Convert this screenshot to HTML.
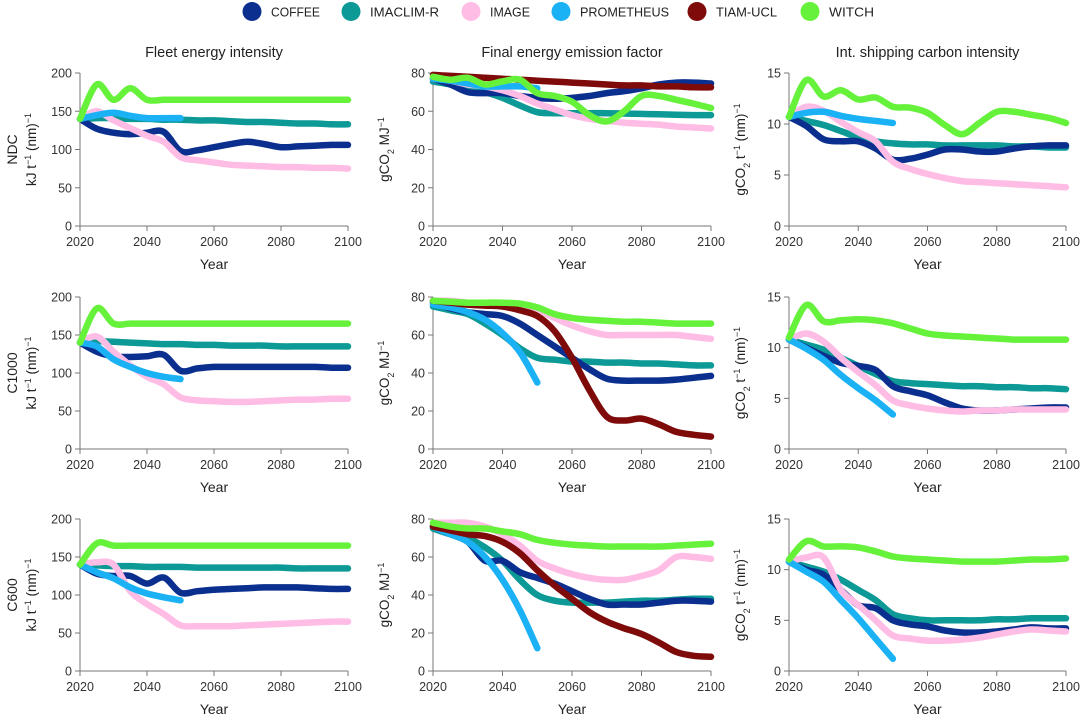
<!DOCTYPE html>
<html><head><meta charset="utf-8"><style>
html,body{margin:0;padding:0;background:#fff;}
svg{display:block;font-family:"Liberation Sans",sans-serif;}
</style></head><body>
<svg id="chart" width="1080" height="717" viewBox="0 0 1080 717" xmlns="http://www.w3.org/2000/svg">
<g id="legend"></g>
<g id="panels"></g>
</svg>
<script>
const models = ["COFFEE","IMACLIM-R","IMAGE","PROMETHEUS","TIAM-UCL","WITCH"];
const modelColors = ["#0b2f8e","#0d9a96","#ffbde6","#1bb2f5","#7f0a0a","#66f23a"];
const years = [2020,2025,2030,2035,2040,2045,2050,2055,2060,2065,2070,2075,2080,2085,2090,2095,2100];
const xTicks = [2020,2040,2060,2080,2100];
const colTitles = ["Fleet energy intensity","Final energy emission factor","Int. shipping carbon intensity"];
const rowLabels = ["NDC","C1000","C600"];
const yTicks1 = [0,50,100,150,200];
const yTicks2 = [0,20,40,60,80];
const yTicks3 = [0,5,10,15];

// Row NDC
const ndcFleetCoffee = [140,127,122,120,122,123,98,99,103,107,110,107,103,104,105,106,106];
const ndcFleetImaclim = [140,141,141,140,140,139,139,138,138,137,136,136,135,134,134,133,133];
const ndcFleetImage = [140,150,138,128,118,110,90,86,83,80,79,78,77,77,76,76,75];
const ndcFleetProm = [140,145,148,144,141,141,141];
const ndcFleetWitch = [140,185,165,180,165,165,165,165,165,165,165,165,165,165,165,165,165];

const ndcEmisCoffee = [77,74,70,69.5,69.5,68,67,66.5,67,68,69.5,70.5,72,74,75,75,74.5];
const ndcEmisImaclim = [75.5,74,72,70,67,63,59.5,59,59,59,59,58.8,58.6,58.4,58.2,58,58];
const ndcEmisImage = [77,76,74,73,71,68,64,61,58,56,55,54,53.5,53,52,51.5,51];
const ndcEmisProm = [77,76,74.5,73,73,73,72];
const ndcEmisTiam = [79,78.5,78,77.5,77,76.5,76,75.5,75,74.5,74,73.5,73.5,73,73,72.5,72.5];
const ndcEmisWitch = [78,76.5,77.5,74,75.6,76.5,69.5,68,65,58,54.7,60,68,68,66,64,61.7];

const ndcShipCoffee = [10.7,9.8,8.5,8.3,8.3,7.6,6.5,6.6,7.0,7.5,7.5,7.3,7.3,7.6,7.8,7.9,7.9];
const ndcShipImaclim = [10.7,10.3,9.9,9.3,8.7,8.3,8.1,8.0,8.0,7.9,7.9,7.9,7.9,7.8,7.8,7.7,7.7];
const ndcShipImage = [10.7,11.7,11.3,10.2,9.2,8.3,6.3,5.6,5.1,4.7,4.4,4.3,4.2,4.1,4.0,3.9,3.8];
const ndcShipProm = [10.7,11.1,11.2,10.8,10.5,10.3,10.1];
const ndcShipWitch = [10.7,14.3,12.7,13.3,12.4,12.6,11.7,11.6,11.1,9.9,9.0,10.1,11.2,11.2,10.9,10.6,10.1];

// Row C1000
const c1kFleetCoffee = [140,128,122,121,122,124,103,106,108,108,108,108,108,108,108,107,107];
const c1kFleetImaclim = [140,142,141,140,139,138,138,137,137,136,136,136,135,135,135,135,135];
const c1kFleetImage = [140,148,128,110,95,85,68,64,63,62,62,63,64,65,65,66,66];
const c1kFleetProm = [140,135,118,108,100,95,92];
const c1kFleetWitch = [140,185,165,165,165,165,165,165,165,165,165,165,165,165,165,165,165];

const c1kEmisCoffee = [77,74,72,71,70,66,60,54,48,42,37,36,36,36,36.5,37.5,38.5];
const c1kEmisImaclim = [75,73,71,66,60,53,48,47,46,46,45.5,45.5,45,45,44.5,44,44];
const c1kEmisImage = [78,78,77,76.5,76,75,73,69,65,62,60,60,60,60,60,59,58];
const c1kEmisProm = [76,74.5,72,68,61,51,35];
const c1kEmisTiam = [78,77,76,75.5,75,73,70,62,48,31,17,15,16,13,9,7.5,6.5];
const c1kEmisWitch = [78,77.5,77,77,77,76.5,74.5,71,69,68,67.5,67,67,66.5,66,66,66];

const c1kShipCoffee = [10.8,10.0,9.2,8.5,8.2,7.8,6.2,5.7,5.3,4.6,4.0,3.8,3.8,3.9,4.0,4.1,4.1];
const c1kShipImaclim = [10.8,10.3,9.8,9.0,8.2,7.4,6.7,6.5,6.4,6.3,6.2,6.2,6.1,6.1,6.0,6.0,5.9];
const c1kShipImage = [10.8,11.4,10.6,9.0,7.6,6.3,4.8,4.3,4.0,3.8,3.7,3.8,3.8,3.9,3.9,3.9,3.9];
const c1kShipProm = [10.8,9.9,8.8,7.3,6.0,4.8,3.4];
const c1kShipWitch = [11,14.2,12.6,12.7,12.8,12.7,12.4,11.9,11.4,11.2,11.1,11,10.9,10.8,10.8,10.8,10.8];

// Row C600
const c600FleetCoffee = [140,128,125,125,115,123,103,105,107,108,109,110,110,110,109,108,108];
const c600FleetImaclim = [140,139,138,138,137,137,137,136,136,136,136,136,136,135,135,135,135];
const c600FleetImage = [140,143,140,105,88,75,60,59,59,59,60,61,62,63,64,65,65];
const c600FleetProm = [140,130,122,110,102,97,93];
const c600FleetWitch = [140,168,165,165,165,165,165,165,165,165,165,165,165,165,165,165,165];

const c600EmisCoffee = [76,72,68,58,58,52,49,46,42,38,35,35,35,36,37,37,36.5];
const c600EmisImaclim = [75,72,70,65,58,48,40,37,36,36,36,36.5,37,37,37.5,38,38];
const c600EmisImage = [78,78,78,76,72,66,58,54,51,49,48,48,50,53,60,60,59];
const c600EmisProm = [76,72,68,60,48,32,12];
const c600EmisTiam = [76,74,72,71,68,62,53,45,38,31,26,22.5,19.5,15,10,8,7.5];
const c600EmisWitch = [78,76,75,75,73.5,72,69,67.5,66.5,66,65.5,65.5,65.5,65.5,66,66.5,67];

const c600ShipCoffee = [10.8,10,9.5,8,6.5,6.2,5,4.6,4.4,4,3.8,3.8,3.9,4.1,4.3,4.2,4.2];
const c600ShipImaclim = [10.8,10.3,9.8,9,8,7,5.6,5.2,5.0,5.0,5.0,5.0,5.1,5.1,5.2,5.2,5.2];
const c600ShipImage = [10.8,11.2,11.2,8,6.5,5,3.5,3.2,3.0,3.0,3.1,3.3,3.6,3.9,4.1,4.0,3.9];
const c600ShipProm = [10.8,9.8,8.8,7,5.2,3.2,1.2];
const c600ShipWitch = [11,12.8,12.3,12.3,12.2,11.8,11.3,11.1,11.0,10.9,10.8,10.8,10.8,10.9,11,11,11.1];

const NS="http://www.w3.org/2000/svg";
function mk(tag, attrs, parent){const e=document.createElementNS(NS,tag);for(const k in attrs)e.setAttribute(k,attrs[k]);if(parent)parent.appendChild(e);return e;}

// legend
const legend=document.getElementById('legend');
const legMarkX=[252,351,471,561,697,810];
const legTextW=[49,69,40,89,61,45];
models.forEach((m,i)=>{
  const g=mk('g',{},legend);
  
  
  const el=mk('ellipse',{cx:legMarkX[i],cy:11.5,rx:9.5,ry:9.5,fill:modelColors[i]},g);
  
  
  const t=mk('text',{x:legMarkX[i]+19,y:16.5,'font-size':13,fill:'#222',textLength:legTextW[i],lengthAdjust:'spacingAndGlyphs'},g);
  
  
  t.textContent=m;
});

const colX=[[80,348],[433,711],[789,1066]];
const rowY=[[226,73],[449,297],[671,519]];
const colTicks=[yTicks1,yTicks2,yTicks3];
const colMax=[200,80,15];
const yTitles=[
  ['kJ t','−1',' (nm)','−1'],
  ['gCO','2s',' MJ','−1'],
  ['gCO','2s',' t','−1',' (nm)','−1']
];
const panelData=[
 [[ndcFleetCoffee,ndcFleetImaclim,ndcFleetImage,ndcFleetProm,null,ndcFleetWitch],
  [ndcEmisCoffee,ndcEmisImaclim,ndcEmisImage,ndcEmisProm,ndcEmisTiam,ndcEmisWitch],
  [ndcShipCoffee,ndcShipImaclim,ndcShipImage,ndcShipProm,null,ndcShipWitch]],
 [[c1kFleetCoffee,c1kFleetImaclim,c1kFleetImage,c1kFleetProm,null,c1kFleetWitch],
  [c1kEmisCoffee,c1kEmisImaclim,c1kEmisImage,c1kEmisProm,c1kEmisTiam,c1kEmisWitch],
  [c1kShipCoffee,c1kShipImaclim,c1kShipImage,c1kShipProm,null,c1kShipWitch]],
 [[c600FleetCoffee,c600FleetImaclim,c600FleetImage,c600FleetProm,null,c600FleetWitch],
  [c600EmisCoffee,c600EmisImaclim,c600EmisImage,c600EmisProm,c600EmisTiam,c600EmisWitch],
  [c600ShipCoffee,c600ShipImaclim,c600ShipImage,c600ShipProm,null,c600ShipWitch]]
];
const drawOrder=[1,0,2,3,4,5];

function smoothPath(pts){
  let d='M'+pts[0][0].toFixed(1)+','+pts[0][1].toFixed(1);
  for(let i=0;i<pts.length-1;i++){
    const p0=pts[Math.max(0,i-1)],p1=pts[i],p2=pts[i+1],p3=pts[Math.min(pts.length-1,i+2)];
    const c1x=p1[0]+(p2[0]-p0[0])/6,c1y=p1[1]+(p2[1]-p0[1])/6;
    const c2x=p2[0]-(p3[0]-p1[0])/6,c2y=p2[1]-(p3[1]-p1[1])/6;
    d+=' C'+c1x.toFixed(1)+','+c1y.toFixed(1)+' '+c2x.toFixed(1)+','+c2y.toFixed(1)+' '+p2[0].toFixed(1)+','+p2[1].toFixed(1);
  }
  return d;
}

const panels=document.getElementById('panels');
colTitles.forEach((t,c)=>{
  const e=mk('text',{x:(colX[c][0]+colX[c][1])/2,y:57,'text-anchor':'middle','font-size':14.5,fill:'#222'},panels);
  
  
  e.textContent=t;
});

for(let r=0;r<3;r++){
  const rl=mk('text',{transform:`translate(17,${(rowY[r][0]+rowY[r][1])/2}) rotate(-90)`,'text-anchor':'middle','font-size':14,fill:'#222'},panels);
  
  
  rl.textContent=rowLabels[r];
  for(let c=0;c<3;c++){
    const g=mk('g',{},panels);
    
    
    const [x0,x1]=colX[c],[y0,y1]=rowY[r];
    const xs=v=>x0+(v-2020)/80*(x1-x0);
    const ys=v=>y0-v/colMax[c]*(y0-y1);
    const ax=mk('path',{d:`M${x0},${y1} L${x0},${y0} L${x1},${y0}`,stroke:'#777',fill:'none','stroke-width':1},g);
    
    
    colTicks[c].forEach(v=>{
      mk('line',{x1:x0-5,x2:x0,y1:ys(v),y2:ys(v),stroke:'#777'},g);
      const t=mk('text',{x:x0-8,y:ys(v)+4.5,'text-anchor':'end','font-size':12.5,fill:'#333'},g);
      
      
      t.textContent=v;
    });
    xTicks.forEach(v=>{
      mk('line',{x1:xs(v),x2:xs(v),y1:y0,y2:y0+5,stroke:'#777'},g);
      const t=mk('text',{x:xs(v),y:y0+20,'text-anchor':'middle','font-size':12.5,fill:'#333'},g);
      
      
      t.textContent=v;
    });
    const xt=mk('text',{x:(x0+x1)/2,y:y0+43,'text-anchor':'middle','font-size':14,fill:'#222'},g);
    
    
    xt.textContent='Year';
    const yt=mk('text',{transform:`translate(${x0-44},${(y0+y1)/2}) rotate(-90)`,'text-anchor':'middle','font-size':13.5,fill:'#222'},g);
    
    
    yTitles[c].forEach((s,k)=>{
      const ts=mk('tspan',{},yt);
      if(s==='−1'){ts.setAttribute('baseline-shift','super');ts.setAttribute('font-size','9');ts.textContent=s;}
      else if(s==='2s'){ts.setAttribute('baseline-shift','sub');ts.setAttribute('font-size','9');ts.textContent='2';}
      else ts.textContent=s;
    });
    drawOrder.forEach(m=>{
      const vals=panelData[r][c][m];
      if(!vals)return;
      const pts=vals.map((v,i)=>[xs(years[i]),ys(v)]);
      const p=mk('path',{d:smoothPath(pts),stroke:modelColors[m],'stroke-width':6.5,fill:'none','stroke-linecap':'round','stroke-linejoin':'round'},g);
      
      
    });
  }
}
</script>
</body></html>
